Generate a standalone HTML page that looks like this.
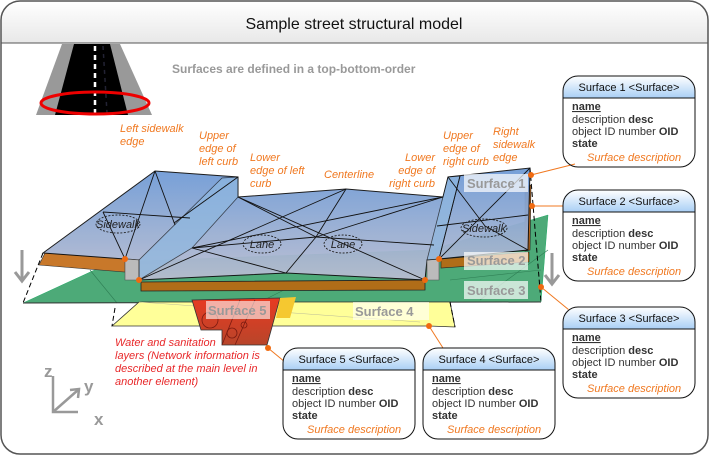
<!DOCTYPE html>
<html><head><meta charset="utf-8"><style>
html,body{margin:0;padding:0;background:#fff;}
svg{display:block;font-family:"Liberation Sans",sans-serif;}
.or{fill:#f07820;font-style:italic;font-size:11px;}
.bt{font-size:11px;fill:#333;}
</style></head><body>
<svg width="709" height="456" viewBox="0 0 709 456" xmlns="http://www.w3.org/2000/svg">
<defs>
<linearGradient id="tg" x1="0" y1="0" x2="0" y2="1"><stop offset="0" stop-color="#fff"/><stop offset="1" stop-color="#e8e8e8"/></linearGradient>
<linearGradient id="hg" x1="0" y1="0" x2="0" y2="1"><stop offset="0" stop-color="#fff"/><stop offset="1" stop-color="#a9cff5"/></linearGradient>
<linearGradient id="bl" x1="0" y1="0" x2="0" y2="1"><stop offset="0" stop-color="#6f9bd6"/><stop offset="1" stop-color="#b9bdd0"/></linearGradient>
<linearGradient id="rd" x1="0" y1="0" x2="0" y2="1"><stop offset="0" stop-color="#e83a22"/><stop offset="1" stop-color="#b8452a"/></linearGradient>
</defs>
<!-- frame -->
<path d="M1,43 V20 Q1,1 20,1 H689 Q708,1 708,20 V43 Z" fill="url(#tg)"/>
<rect x="1" y="1" width="707" height="453" rx="19" fill="none" stroke="#555" stroke-width="1.5"/>
<line x1="1" y1="43" x2="708" y2="43" stroke="#555" stroke-width="1"/>
<text x="354" y="29" text-anchor="middle" font-size="16" fill="#111">Sample street structural model</text>

<!-- road icon -->
<polygon points="62,44 120,44 152,115 36,115" fill="#999"/>
<polygon points="74,44 110,44 128,115 55,115" fill="#000"/>
<line x1="95" y1="46" x2="95" y2="113" stroke="#fff" stroke-width="2.5" stroke-dasharray="5,4"/>
<line x1="103" y1="46" x2="107" y2="113" stroke="#223" stroke-width="1.5" stroke-dasharray="4,4"/>
<ellipse cx="95" cy="103" rx="54" ry="11" fill="none" stroke="#e00" stroke-width="3"/>
<text x="172" y="73" font-size="12" font-weight="bold" fill="#999">Surfaces are defined in a top-bottom-order</text>

<!-- arrows -->
<g stroke="#999" stroke-width="3" fill="none"><line x1="22" y1="250" x2="22" y2="280"/><polyline points="15,272 22,281 29,272"/>
<line x1="552" y1="253" x2="552" y2="283"/><polyline points="545,275 552,284 559,275"/></g>

<!-- green surface 3 -->
<polygon points="23,303 112,262 430,250 548,215 541,302" fill="#4daa78" stroke="#2a6" stroke-width="0.5"/>
<g stroke="#2f7f55" stroke-width="0.6" fill="none"><line x1="90" y1="270" x2="117" y2="303"/><line x1="300" y1="282" x2="260" y2="302"/><line x1="450" y1="280" x2="541" y2="270"/><line x1="480" y1="300" x2="548" y2="250"/></g>
<line x1="23" y1="303" x2="541" y2="302" stroke="#333" stroke-width="1"/>
<!-- yellow surface 4 -->
<polygon points="112,326 139,302 450,302 455,327 429,326" fill="#ffff99" stroke="#333" stroke-width="0.8"/>
<line x1="139" y1="302" x2="420" y2="322" stroke="#bb9" stroke-width="0.5"/>
<!-- red surface 5 -->
<polygon points="192,300 280,298 267,345 222,345 222,330 201,330" fill="url(#rd)" stroke="#333" stroke-width="0.8"/>
<polygon points="280,298 296,297 290,318 276,318" fill="#f5c830"/>
<g stroke="#7a1a10" fill="none" stroke-width="0.8"><circle cx="210" cy="320" r="8"/><circle cx="232" cy="333" r="5"/><circle cx="244" cy="325" r="3"/><line x1="240" y1="300" x2="222" y2="345"/><line x1="255" y1="300" x2="235" y2="345"/></g>
<!-- dashed edges -->
<g stroke="#000" stroke-dasharray="5,3" fill="none" stroke-width="1"><line x1="43" y1="253" x2="23" y2="303"/><line x1="115" y1="308" x2="112" y2="326"/><line x1="530" y1="168" x2="541" y2="302"/><line x1="450" y1="302" x2="455" y2="327"/></g>

<!-- orange surface 2 -->
<polygon points="39,265 45,253 125,259 125,272" fill="#c8782a" stroke="#333" stroke-width="0.6"/>
<polygon points="141,282 425,280 425,290 141,291" fill="#b06d18" stroke="#222" stroke-width="0.8"/>
<polygon points="441,259 529,252 529,262 441,268" fill="#b06d18" stroke="#222" stroke-width="0.6"/>
<polygon points="525,187 531,185 530,250 525,251" fill="#b8651a" stroke="#222" stroke-width="0.6"/>

<!-- blue surface 1 -->
<polygon points="43,253 155,171 238,177 238,197 346,189 443,197 448,177 530,168 528,250 439,259 427,260 425,280 286,273 139,280 139,260 125,259" fill="url(#bl)" opacity="0.95" stroke="#111" stroke-width="1"/>
<polygon points="125,259 139,260 139,280 125,280" fill="#bbb" stroke="#555" stroke-width="0.6"/>
<polygon points="427,260 439,259 439,280 427,280" fill="#bbb" stroke="#555" stroke-width="0.6"/>
<polygon points="139,280 139,260 222,178 238,177 238,197 192,248" fill="#8fb8e0" opacity="0.7" stroke="#111" stroke-width="0.8"/>
<polygon points="427,260 448,177 460,176 439,259" fill="#8fb8e0" opacity="0.7" stroke="#111" stroke-width="0.8"/>
<g stroke="#111" stroke-width="0.9" fill="none">
<line x1="103" y1="212" x2="190" y2="218"/><line x1="155" y1="171" x2="125" y2="259"/><line x1="103" y1="212" x2="125" y2="259"/><line x1="174" y1="223" x2="238" y2="177"/><line x1="155" y1="171" x2="175" y2="225"/>
<line x1="192" y1="248" x2="286" y2="273"/><line x1="192" y1="248" x2="316" y2="237"/><line x1="316" y1="237" x2="434" y2="245"/><line x1="238" y1="197" x2="316" y2="237"/><line x1="346" y1="189" x2="316" y2="237"/><line x1="443" y1="197" x2="316" y2="237"/><line x1="316" y1="237" x2="286" y2="273"/><line x1="192" y1="248" x2="443" y2="197"/><line x1="238" y1="197" x2="425" y2="280"/><line x1="139" y1="280" x2="346" y2="189"/>
<line x1="439" y1="259" x2="530" y2="168"/><line x1="437" y1="226" x2="528" y2="215"/><line x1="448" y1="177" x2="485" y2="226"/><line x1="485" y1="226" x2="528" y2="250"/><line x1="439" y1="259" x2="460" y2="176"/>
</g>
<g fill="none" stroke="#222" stroke-dasharray="2,1.5" stroke-width="0.9">
<ellipse cx="118" cy="224" rx="22" ry="9"/><ellipse cx="262" cy="244" rx="19" ry="9"/><ellipse cx="343" cy="244" rx="19" ry="9"/><ellipse cx="484" cy="228" rx="23" ry="9"/></g>
<g font-size="11" font-style="italic" fill="#222" text-anchor="middle"><text x="118" y="228">Sidewalk</text><text x="262" y="248">Lane</text><text x="343" y="248">Lane</text><text x="484" y="232">Sidewalk</text></g>

<!-- surface labels -->
<g font-size="13" font-weight="bold" fill="#999">
<rect x="464" y="174" width="64" height="18" fill="#fff" opacity="0.7"/><text x="467" y="188">Surface 1</text>
<rect x="464" y="252" width="64" height="18" fill="#fff" opacity="0.7"/><text x="467" y="265">Surface 2</text>
<rect x="464" y="281" width="64" height="18" fill="#fff" opacity="0.7"/><text x="467" y="295">Surface 3</text>
<rect x="206" y="301" width="64" height="18" fill="#fff" opacity="0.6"/><text x="208" y="315">Surface 5</text>
<rect x="353" y="302" width="76" height="18" fill="#fff" opacity="0.6"/><text x="355" y="316">Surface 4</text>
</g>

<!-- orange dots & connectors -->
<g stroke="#f07820" stroke-width="1" fill="none"><line x1="531" y1="175" x2="575" y2="164"/><line x1="532" y1="206" x2="563" y2="206"/><line x1="541" y1="287" x2="580" y2="319"/><line x1="429" y1="326" x2="443" y2="348"/><line x1="268" y1="348" x2="285" y2="362"/></g>
<g fill="#f06a10"><circle cx="531" cy="175" r="3"/><circle cx="532" cy="206" r="3"/><circle cx="541" cy="287" r="3"/><circle cx="429" cy="326" r="3"/><circle cx="268" cy="348" r="3"/><circle cx="125" cy="259" r="3"/><circle cx="139" cy="280" r="3"/><circle cx="439" cy="259" r="3"/><circle cx="425" cy="280" r="3"/></g>

<!-- annotations -->
<text class="or" x="120" y="132">Left sidewalk</text><text class="or" x="120" y="145">edge</text>
<text class="or" x="199" y="139">Upper</text><text class="or" x="199" y="152">edge of</text><text class="or" x="199" y="165">left curb</text>
<text class="or" x="250" y="161">Lower</text><text class="or" x="250" y="174">edge of left</text><text class="or" x="250" y="187">curb</text>
<text class="or" x="324" y="178">Centerline</text>
<g text-anchor="end"><text class="or" x="435" y="161">Lower</text><text class="or" x="435" y="174">edge of</text><text class="or" x="435" y="187">right curb</text></g>
<text class="or" x="443" y="139">Upper</text><text class="or" x="443" y="152">edge of</text><text class="or" x="443" y="165">right curb</text>
<text class="or" x="493" y="135">Right</text><text class="or" x="493" y="148">sidewalk</text><text class="or" x="493" y="161">edge</text>
<g font-size="11" font-style="italic" fill="#e8282a"><text x="115" y="346">Water and sanitation</text><text x="115" y="359">layers (Network information is</text><text x="115" y="372">described at the main level in</text><text x="115" y="385">another element)</text></g>

<!-- axes -->
<g stroke="#999" stroke-width="2.5" fill="none"><polyline points="53,376 53,412 78,412"/><line x1="53" y1="412" x2="78" y2="390"/><polyline points="70,390 79,389 78,398"/></g>
<g font-size="17" font-weight="bold" fill="#999"><text x="44" y="377">z</text><text x="84" y="392">y</text><text x="94" y="425">x</text></g>

<!-- boxes -->
<g id="boxes">
<g transform="translate(563,76)">
<path d="M0,22 V15 Q0,0 15,0 H117 Q132,0 132,15 V22 Z" fill="url(#hg)"/><rect x="0" y="0" width="132" height="91" rx="15" fill="none" stroke="#111"/><line x1="0" y1="22" x2="132" y2="22" stroke="#111"/>
<text x="66" y="15" text-anchor="middle" font-size="11" fill="#111">Surface 1 &lt;Surface&gt;</text>
<text class="bt" x="9" y="34" font-weight="bold" text-decoration="underline">name</text><text class="bt" x="9" y="47">description <tspan font-weight="bold">desc</tspan></text><text class="bt" x="9" y="59">object ID number <tspan font-weight="bold">OID</tspan></text><text class="bt" x="9" y="71" font-weight="bold">state</text><text x="24" y="85" class="or">Surface description</text></g>
<g transform="translate(563,190)">
<path d="M0,22 V15 Q0,0 15,0 H117 Q132,0 132,15 V22 Z" fill="url(#hg)"/><rect x="0" y="0" width="132" height="91" rx="15" fill="none" stroke="#111"/><line x1="0" y1="22" x2="132" y2="22" stroke="#111"/>
<text x="66" y="15" text-anchor="middle" font-size="11" fill="#111">Surface 2 &lt;Surface&gt;</text>
<text class="bt" x="9" y="34" font-weight="bold" text-decoration="underline">name</text><text class="bt" x="9" y="47">description <tspan font-weight="bold">desc</tspan></text><text class="bt" x="9" y="59">object ID number <tspan font-weight="bold">OID</tspan></text><text class="bt" x="9" y="71" font-weight="bold">state</text><text x="24" y="85" class="or">Surface description</text></g>
<g transform="translate(563,307)">
<path d="M0,22 V15 Q0,0 15,0 H117 Q132,0 132,15 V22 Z" fill="url(#hg)"/><rect x="0" y="0" width="132" height="91" rx="15" fill="none" stroke="#111"/><line x1="0" y1="22" x2="132" y2="22" stroke="#111"/>
<text x="66" y="15" text-anchor="middle" font-size="11" fill="#111">Surface 3 &lt;Surface&gt;</text>
<text class="bt" x="9" y="34" font-weight="bold" text-decoration="underline">name</text><text class="bt" x="9" y="47">description <tspan font-weight="bold">desc</tspan></text><text class="bt" x="9" y="59">object ID number <tspan font-weight="bold">OID</tspan></text><text class="bt" x="9" y="71" font-weight="bold">state</text><text x="24" y="85" class="or">Surface description</text></g>
<g transform="translate(283,348)">
<path d="M0,22 V15 Q0,0 15,0 H117 Q132,0 132,15 V22 Z" fill="url(#hg)"/><rect x="0" y="0" width="132" height="91" rx="15" fill="none" stroke="#111"/><line x1="0" y1="22" x2="132" y2="22" stroke="#111"/>
<text x="66" y="15" text-anchor="middle" font-size="11" fill="#111">Surface 5 &lt;Surface&gt;</text>
<text class="bt" x="9" y="34" font-weight="bold" text-decoration="underline">name</text><text class="bt" x="9" y="47">description <tspan font-weight="bold">desc</tspan></text><text class="bt" x="9" y="59">object ID number <tspan font-weight="bold">OID</tspan></text><text class="bt" x="9" y="71" font-weight="bold">state</text><text x="24" y="85" class="or">Surface description</text></g>
<g transform="translate(423,348)">
<path d="M0,22 V15 Q0,0 15,0 H117 Q132,0 132,15 V22 Z" fill="url(#hg)"/><rect x="0" y="0" width="132" height="91" rx="15" fill="none" stroke="#111"/><line x1="0" y1="22" x2="132" y2="22" stroke="#111"/>
<text x="66" y="15" text-anchor="middle" font-size="11" fill="#111">Surface 4 &lt;Surface&gt;</text>
<text class="bt" x="9" y="34" font-weight="bold" text-decoration="underline">name</text><text class="bt" x="9" y="47">description <tspan font-weight="bold">desc</tspan></text><text class="bt" x="9" y="59">object ID number <tspan font-weight="bold">OID</tspan></text><text class="bt" x="9" y="71" font-weight="bold">state</text><text x="24" y="85" class="or">Surface description</text></g>
</g>
</svg>
</body></html>
